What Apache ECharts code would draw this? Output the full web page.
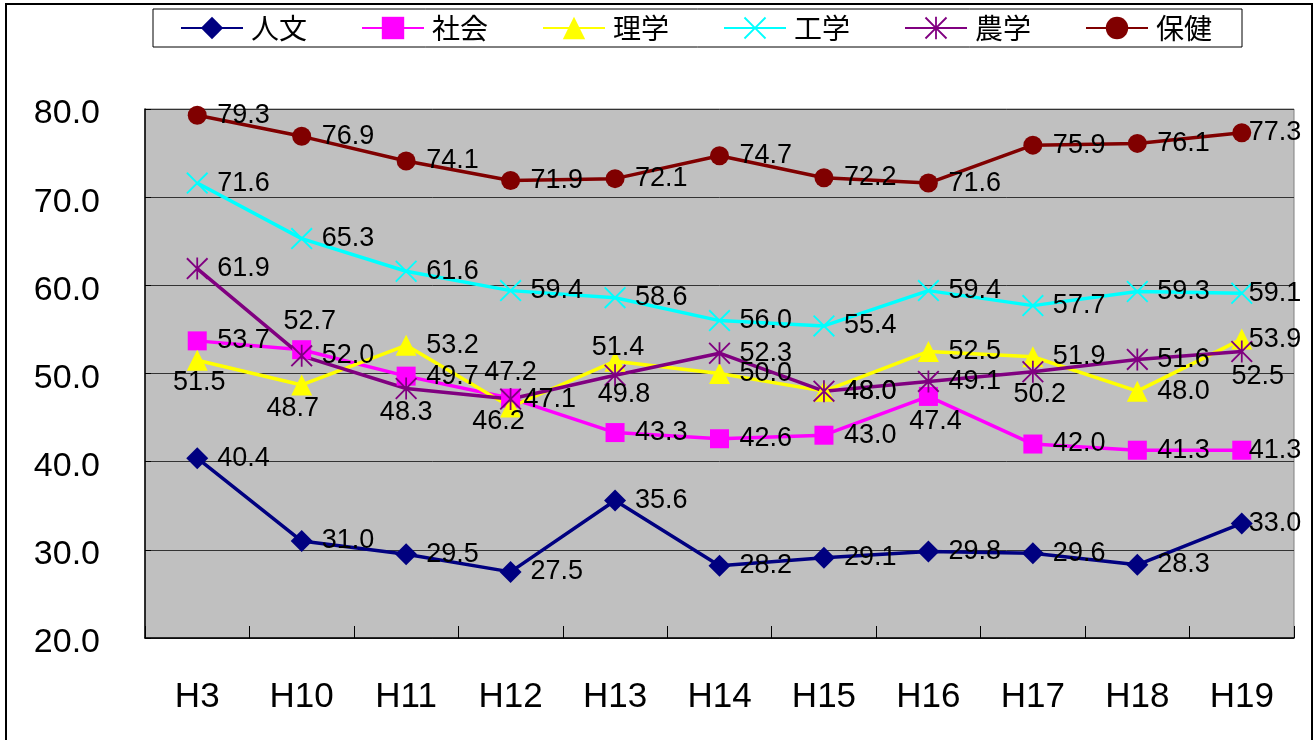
<!DOCTYPE html>
<html>
<head>
<meta charset="utf-8">
<script src="https://cdn.jsdelivr.net/npm/echarts@6/dist/echarts.min.js"></script>
<style>
  html, body { margin: 0; padding: 0; background: #fff; }
  #chart { width: 1314px; height: 740px; }
</style>
</head>
<body>
<div id="chart"></div>
<script>
// Survey years (Heisei)
const years = ['H3', 'H10', 'H11', 'H12', 'H13', 'H14', 'H15', 'H16', 'H17', 'H18', 'H19'];

// Values per field
const jinbun  = [40.4, 31.0, 29.5, 27.5, 35.6, 28.2, 29.1, 29.8, 29.6, 28.3, 33.0];
const shakai  = [53.7, 52.7, 49.7, 47.2, 43.3, 42.6, 43.0, 47.4, 42.0, 41.3, 41.3];
const rigaku  = [51.5, 48.7, 53.2, 46.2, 51.4, 50.0, 48.0, 52.5, 51.9, 48.0, 53.9];
const kougaku = [71.6, 65.3, 61.6, 59.4, 58.6, 56.0, 55.4, 59.4, 57.7, 59.3, 59.1];
const nougaku = [61.9, 52.0, 48.3, 47.1, 49.8, 52.3, 48.0, 49.1, 50.2, 51.6, 52.5];
const hoken   = [79.3, 76.9, 74.1, 71.9, 72.1, 74.7, 72.2, 71.6, 75.9, 76.1, 77.3];

const yTicks = [20, 30, 40, 50, 60, 70, 80];

// Marker shapes: a cross and a six-armed asterisk
const X_PATH = 'path://M0,6 L6,0 L50,44 L94,0 L100,6 L56,50 L100,94 L94,100 L50,56 L6,100 L0,94 L44,50 Z';
const STAR_PATH = X_PATH.replace(' Z', ' Z M46,0 L54,0 L54,100 L46,100 Z');

const seriesDefs = [
  { name: '人文', data: jinbun,  color: '#000080', symbol: 'diamond',  size: 22 },
  { name: '社会', data: shakai,  color: '#FF00FF', symbol: 'rect',     size: 19 },
  { name: '理学', data: rigaku,  color: '#FFFF00', symbol: 'triangle', size: 21 },
  { name: '工学', data: kougaku, color: '#00FFFF', symbol: X_PATH,     size: 22 },
  { name: '農学', data: nougaku, color: '#800080', symbol: STAR_PATH,  size: 22 },
  { name: '保健', data: hoken,   color: '#800000', symbol: 'circle',   size: 19 }
];

// Label placement overrides: index -> [align, dx, dy] from the marker centre
const labelLayout = {
  '社会': { 1: ['center', 8, -28], 3: ['center', 0, -26], 7: ['center', 7, 25] },
  '理学': { 0: ['center', 2, 22], 1: ['center', -9, 24], 3: ['center', -12, 15], 4: ['center', 3, -14] },
  '農学': { 2: ['center', 0, 24], 3: ['left', 13, 0], 4: ['center', 9, 19], 8: ['center', 7, 23], 10: ['center', 16, 25] }
};

function labelFor(name, i) {
  const own = labelLayout[name] && labelLayout[name][i];
  const spec = own || (i === years.length - 1 ? ['left', 7, 0] : ['left', 20, 0]);
  return {
    show: true,
    position: 'inside',
    align: spec[0],
    verticalAlign: 'middle',
    offset: [spec[1], spec[2]],
    color: '#000',
    fontFamily: 'Liberation Sans, Arial, sans-serif',
    fontSize: 27,
    formatter: p => Number(p.value).toFixed(1)
  };
}

const chart = echarts.init(document.getElementById('chart'), null, { renderer: 'canvas' });

chart.setOption({
  animation: false,
  backgroundColor: '#fff',
  graphic: [{
    type: 'rect',
    silent: true,
    z: 100,
    shape: { x: 6, y: 4, width: 1306, height: 800 },
    style: { fill: 'none', stroke: '#000', lineWidth: 2 }
  }],
  legend: {
    left: 153,
    top: 9,
    padding: [5, 30, 5, 27],
    itemWidth: 62,
    itemHeight: 28,
    itemGap: 54,
    borderColor: '#000',
    borderWidth: 1,
    backgroundColor: '#fff',
    textStyle: { fontFamily: 'Noto Sans CJK JP', fontSize: 28, color: '#000', padding: [0, 0, 0, 3] },
    data: seriesDefs.map(s => s.name)
  },
  grid: {
    left: 145,
    right: 20,
    top: 109,
    bottom: 102,
    show: true,
    backgroundColor: '#C0C0C0',
    borderColor: '#808080',
    borderWidth: 1
  },
  xAxis: {
    type: 'category',
    data: years,
    boundaryGap: true,
    axisLine: { show: true, lineStyle: { color: '#000', width: 1.5 } },
    axisTick: { show: true, inside: true, length: 12, lineStyle: { color: '#000' } },
    axisLabel: {
      margin: 42,
      color: '#000',
      fontFamily: 'Liberation Sans, Arial, sans-serif',
      fontSize: 35
    }
  },
  yAxis: {
    type: 'value',
    min: yTicks[0],
    max: yTicks[yTicks.length - 1],
    interval: 10,
    axisLine: { show: true, lineStyle: { color: '#000', width: 1.5 } },
    axisTick: { show: true, inside: true, length: 6, lineStyle: { color: '#000' } },
    splitLine: { show: true, lineStyle: { color: '#333', width: 1 } },
    axisLabel: {
      margin: 45,
      color: '#000',
      fontFamily: 'Liberation Sans, Arial, sans-serif',
      fontSize: 34,
      verticalAlign: 'top',
      lineHeight: 10,
      formatter: v => v.toFixed(1)
    }
  },
  series: seriesDefs.map(s => ({
    name: s.name,
    type: 'line',
    data: s.data.map((v, i) => ({ value: v, label: labelFor(s.name, i) })),
    symbol: s.symbol,
    symbolSize: s.size,
    showAllSymbol: true,
    color: s.color,
    lineStyle: { color: s.color, width: 3.5 },
    itemStyle: { color: s.color },
    emphasis: { disabled: true }
  }))
});
</script>
</body>
</html>
